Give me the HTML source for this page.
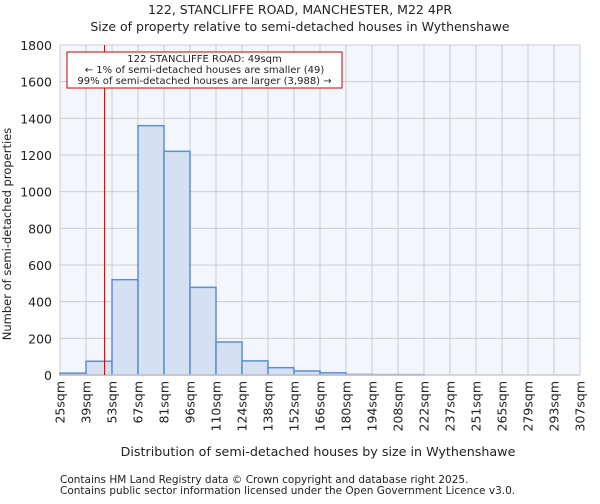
<!DOCTYPE html>
<html><head><meta charset="utf-8"><style>
body{margin:0;background:#fff;font-family:"DejaVu Sans","Liberation Sans",sans-serif;}
text{font-family:"DejaVu Sans","Liberation Sans",sans-serif;fill:#222;}
</style></head><body>
<svg id="chart" width="600" height="500">
<text x="300" y="14" font-size="12.5" text-anchor="middle">122, STANCLIFFE ROAD, MANCHESTER, M22 4PR</text>
<text x="300" y="31" font-size="12.5" text-anchor="middle">Size of property relative to semi-detached houses in Wythenshawe</text>
<rect x="60" y="45" width="520" height="330" fill="#f3f6fd"/>
<g id="grid"></g><g id="bars"></g><g id="axes"></g>
<text x="318" y="456" font-size="12.7" text-anchor="middle">Distribution of semi-detached houses by size in Wythenshawe</text>
<text transform="translate(11,234) rotate(-90)" font-size="11.5" text-anchor="middle">Number of semi-detached properties</text>
<text x="60" y="483" font-size="10.5">Contains HM Land Registry data © Crown copyright and database right 2025.</text>
<text x="60" y="494" font-size="10.5">Contains public sector information licensed under the Open Government Licence v3.0.</text>
</svg>
<script>
const xLabels=["25sqm","39sqm","53sqm","67sqm","81sqm","96sqm","110sqm","124sqm","138sqm","152sqm","166sqm","180sqm","194sqm","208sqm","222sqm","237sqm","251sqm","265sqm","279sqm","293sqm","307sqm"];
const counts=[10,75,520,1360,1220,478,180,77,40,22,12,3,2,2,0,0,0,0,0,0];
const yTicks=[0,200,400,600,800,1000,1200,1400,1600,1800];
const propertySize=49;
const ns="http://www.w3.org/2000/svg";
const X0=60,X1=580,Y0=375,Y1=45,YMAX=1800;
const bw=(X1-X0)/counts.length;
const xs=i=>X0+i*bw;
const ys=v=>Y0-(v/YMAX)*(Y0-Y1);
function mk(t,a,p){const e=document.createElementNS(ns,t);for(const k in a)e.setAttribute(k,a[k]);p.appendChild(e);return e;}
const grid=document.getElementById('grid'),bars=document.getElementById('bars'),axes=document.getElementById('axes');
yTicks.forEach(v=>{
 const l=mk('line',{x1:X0,x2:X1,y1:ys(v),y2:ys(v),stroke:'#cccccc','stroke-width':1},grid);
 
 
 const t=mk('text',{x:X0-8,y:ys(v)+5,'font-size':12.5,'text-anchor':'end'},axes);
 t.textContent=v;
 
 
});
xLabels.forEach((s,i)=>{
 const l=mk('line',{x1:xs(i),x2:xs(i),y1:Y1,y2:Y0,stroke:'#cccccc','stroke-width':1},grid);
 
 
 const t=mk('text',{transform:`translate(${xs(i)+4.5},${Y0+6}) rotate(-90)`,'font-size':12.5,'text-anchor':'end'},axes);
 t.textContent=s;
 
 
});
counts.forEach((c,i)=>{
 if(c<=0)return;
 const r=mk('rect',{x:xs(i),y:ys(c),width:bw,height:Y0-ys(c),fill:'#d6e0f3',stroke:'#5b8fd6','stroke-width':1.5},bars);
 
 
});
const ax=mk('line',{x1:X0,x2:X1,y1:Y0,y2:Y0,stroke:'#cccccc','stroke-width':1.5},axes);


const px=X0+((propertySize-25)/14)*bw;
const ml=mk('line',{x1:px,x2:px,y1:Y1,y2:Y0,stroke:'#cc0000','stroke-width':1},axes);


const box=mk('rect',{x:67,y:52,width:275,height:36,fill:'#fff',stroke:'#cc0000','stroke-width':1},axes);


["122 STANCLIFFE ROAD: 49sqm","← 1% of semi-detached houses are smaller (49)","99% of semi-detached houses are larger (3,988) →"].forEach((s,i)=>{
 const t=mk('text',{x:204.5,y:62+i*11,'font-size':10,'text-anchor':'middle'},axes);
 t.textContent=s;
 
 
});
</script>
</body></html>
